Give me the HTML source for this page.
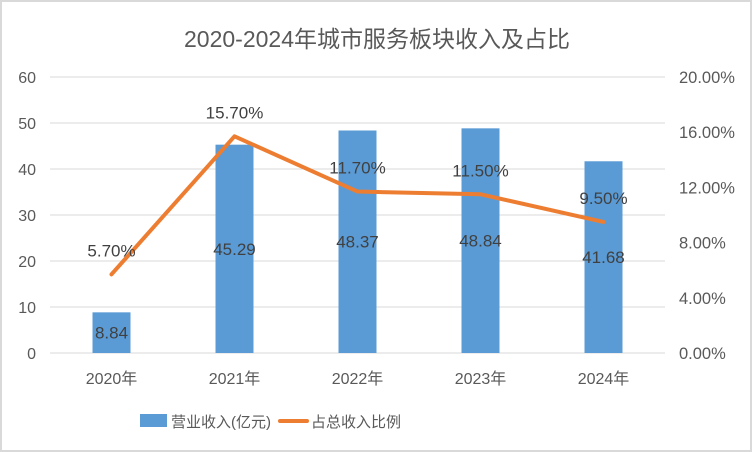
<!DOCTYPE html>
<html><head><meta charset="utf-8"><style>
body{margin:0;background:#fff}
svg{display:block;font-family:"Liberation Sans","Noto Sans CJK SC",sans-serif}
</style></head><body>
<svg id="chart" width="752" height="452" xmlns="http://www.w3.org/2000/svg">
<rect x="1" y="1" width="750" height="450" fill="#fff" stroke="#d9d9d9" stroke-width="2"/>
<text x="377" y="47" text-anchor="middle" font-size="23" fill="#595959">2020-2024年城市服务板块收入及占比</text>
<g id="grid"></g><g id="bars"></g><g id="line"></g><g id="labels"></g>
<g>
<rect x="140" y="414" width="27" height="13" fill="#5b9bd5"/>
<text x="171" y="427" font-size="15" fill="#595959">营业收入(亿元)</text>
<line x1="280" y1="421" x2="307" y2="421" stroke="#ed7d31" stroke-width="4" stroke-linecap="round"/>
<text x="311" y="427" font-size="15" fill="#595959">占总收入比例</text>
</g>
</svg>
<script>
const categories=["2020年","2021年","2022年","2023年","2024年"];
const revenue=[8.84,45.29,48.37,48.84,41.68];
const share=[5.70,15.70,11.70,11.50,9.50];
const leftTicks=[0,10,20,30,40,50,60];
const rightTicks=["0.00%","4.00%","8.00%","12.00%","16.00%","20.00%"];
const NS="http://www.w3.org/2000/svg";
const x0=50,x1=665,yTop=77,yBot=353,step=(x1-x0)/categories.length;
const yL=v=>yBot-v/60*(yBot-yTop);
const yR=v=>yBot-v/20*(yBot-yTop);
const xC=i=>x0+step*(i+0.5);
function mk(tag,attrs,parent,text){const e=document.createElementNS(NS,tag);for(const k in attrs)e.setAttribute(k,attrs[k]);if(text!==undefined)e.textContent=text;document.getElementById(parent).appendChild(e);return e;}
leftTicks.forEach(t=>{
 const l=mk("line",{x1:x0,x2:x1,y1:yL(t),y2:yL(t),stroke:"#d9d9d9","stroke-width":1},"grid");
 
 
 const tx=mk("text",{x:36,y:yL(t)+6,"text-anchor":"end","font-size":16,fill:"#595959"},"grid",t);
 
 
});
rightTicks.forEach((t,i)=>{
 const tx=mk("text",{x:679,y:yR(i*4)+6,"font-size":16.5,fill:"#595959"},"grid",t);
 
 
});
categories.forEach((c,i)=>{
 const tx=mk("text",{x:xC(i),y:384,"text-anchor":"middle","font-size":16,fill:"#595959"},"grid",c);
 
 
 const b=mk("rect",{x:xC(i)-19,y:yL(revenue[i]),width:38,height:yBot-yL(revenue[i]),fill:"#5b9bd5"},"bars");
 
 
 const bl=mk("text",{x:xC(i),y:(yL(revenue[i])+yBot)/2+6,"text-anchor":"middle","font-size":17,fill:"#404040"},"labels",revenue[i].toFixed(2));
 
 
 const ll=mk("text",{x:xC(i),y:yR(share[i])-18,"text-anchor":"middle","font-size":17,fill:"#404040"},"labels",share[i].toFixed(2)+"%");
 
 
});
const p=mk("polyline",{points:share.map((v,i)=>xC(i)+","+yR(v)).join(" "),fill:"none",stroke:"#ed7d31","stroke-width":4,"stroke-linejoin":"round","stroke-linecap":"round"},"line");


</script>
</body></html>
